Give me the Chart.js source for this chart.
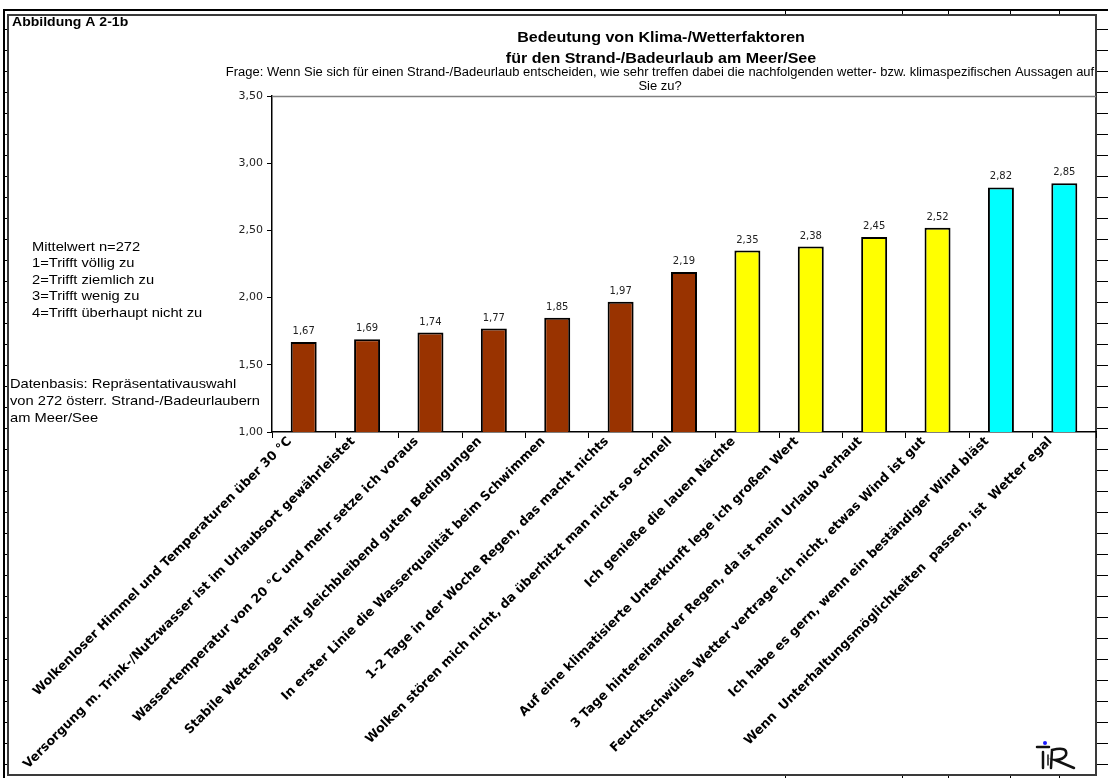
<!DOCTYPE html>
<html>
<head>
<meta charset="utf-8">
<script src="https://cdn.jsdelivr.net/npm/chart.js@4/dist/chart.umd.min.js"></script>
<style>
  html, body { margin: 0; padding: 0; background: #fff; }
  #wrap { width: 1108px; height: 778px; }
</style>
</head>
<body>
<div id="wrap"><canvas id="myChart" width="1108" height="778"></canvas></div>
<script>
const categories = [
  'Wolkenloser Himmel und Temperaturen über 30 °C',
  'Versorgung m. Trink-/Nutzwasser ist im Urlaubsort gewährleistet',
  'Wassertemperatur von 20 °C und mehr setze ich voraus',
  'Stabile Wetterlage mit gleichbleibend guten Bedingungen',
  'In erster Linie die Wasserqualität beim Schwimmen',
  '1-2 Tage in der Woche Regen, das macht nichts',
  'Wolken stören mich nicht, da überhitzt man nicht so schnell',
  'Ich genieße die lauen Nächte',
  'Auf eine klimatisierte Unterkunft lege ich großen Wert',
  '3 Tage hintereinander Regen, da ist mein Urlaub verhaut',
  'Feuchtschwüles Wetter vertrage ich nicht, etwas Wind ist gut',
  'Ich habe es gern, wenn ein beständiger Wind bläst',
  'Wenn  Unterhaltungsmöglichkeiten  passen, ist  Wetter egal'
];
const means = [1.67, 1.69, 1.74, 1.77, 1.85, 1.97, 2.19, 2.35, 2.38, 2.45, 2.52, 2.82, 2.85];
const barColors = [
  '#993300', '#993300', '#993300', '#993300', '#993300', '#993300', '#993300',
  '#FFFF00', '#FFFF00', '#FFFF00', '#FFFF00',
  '#00FFFF', '#00FFFF'
];
const yTickLabels = ['1,00', '1,50', '2,00', '2,50', '3,00', '3,50'];

const titleLines = ['Bedeutung von Klima-/Wetterfaktoren', 'für den Strand-/Badeurlaub am Meer/See'];
const questionLines = [
  'Frage: Wenn Sie sich für einen Strand-/Badeurlaub entscheiden, wie sehr treffen dabei die nachfolgenden wetter- bzw. klimaspezifischen Aussagen auf',
  'Sie zu?'
];
const scaleNotes = ['Mittelwert n=272', '1=Trifft völlig zu', '2=Trifft ziemlich zu', '3=Trifft wenig zu', '4=Trifft überhaupt nicht zu'];
const sourceNotes = ['Datenbasis: Repräsentativauswahl', 'von 272 österr. Strand-/Badeurlaubern', 'am Meer/See'];
const figureLabel = 'Abbildung A 2-1b';

const ARIAL = "'Liberation Sans', Arial, sans-serif";
const WIDE = "'DejaVu Sans', sans-serif";

function seg(c, x1, y1, x2, y2) {
  c.beginPath(); c.moveTo(x1, y1); c.lineTo(x2, y2); c.stroke();
}

// the source used a horizontally widened Arial, so stretch the text a bit
function wideText(c, text, x, y, font, align, sx) {
  c.save();
  c.font = font;
  c.textAlign = align;
  c.translate(x, y);
  c.scale(sx, 1);
  c.fillText(text, 0, 0);
  c.restore();
}

// spreadsheet cells around the embedded chart + the chart box itself
const sheetFrame = {
  id: 'sheetFrame',
  beforeDraw(chart) {
    const c = chart.ctx;
    c.save();
    c.fillStyle = '#fff';
    c.fillRect(0, 0, chart.width, chart.height);
    c.strokeStyle = '#000';
    c.lineWidth = 1;
    for (let y = 29.5; y < chart.height; y += 21) {
      seg(c, 3, y, 8, y);
      seg(c, 1096, y, 1108, y);
    }
    for (const x of [785, 902, 948, 1010, 1059]) {
      seg(c, x + 0.5, 9, x + 0.5, 15);
      seg(c, x + 0.5, 775, x + 0.5, 778);
    }
    c.lineWidth = 2;
    seg(c, 4, 9, 4, 778);
    seg(c, 3, 10, 1108, 10);
    c.strokeStyle = '#3a3a3a';
    c.strokeRect(8, 15, 1088, 760);
    c.restore();
  }
};

const annotations = {
  id: 'annotations',
  afterDraw(chart) {
    const c = chart.ctx;
    const area = chart.chartArea;
    c.save();

    // top border of the plot
    c.strokeStyle = '#808080';
    c.lineWidth = 1.5;
    seg(c, area.left, area.top + 0.5, 1096, area.top + 0.5);

    c.fillStyle = '#000';
    c.textBaseline = 'middle';
    wideText(c, figureLabel, 12, 22, 'bold 13px ' + ARIAL, 'left', 1.08);

    titleLines.forEach((t, i) => wideText(c, t, 661, 38 + i * 21, 'bold 15px ' + ARIAL, 'center', 1.07));
    questionLines.forEach((t, i) => wideText(c, t, 660, 73 + i * 14, '12px ' + ARIAL, 'center', 1.08));

    scaleNotes.forEach((t, i) => wideText(c, t, 32, 247 + i * 16.5, '13px ' + ARIAL, 'left', 1.13));
    sourceNotes.forEach((t, i) => wideText(c, t, 10, 384 + i * 17, '13px ' + ARIAL, 'left', 1.13));

    // value labels above the bars
    c.textAlign = 'center';
    c.textBaseline = 'alphabetic';
    c.font = '10px ' + WIDE;
    c.fillStyle = '#222';
    const meta = chart.getDatasetMeta(0);
    meta.data.forEach((bar, i) => {
      c.fillText(means[i].toFixed(2).replace('.', ','), bar.x, bar.y - 8);
    });

    // institute logo
    c.strokeStyle = '#111';
    c.lineWidth = 2.5;
    c.lineCap = 'round';
    seg(c, 1037, 747, 1049, 747);
    seg(c, 1043, 752, 1043, 768);
    c.lineWidth = 1.5;
    seg(c, 1048, 755, 1048, 765);
    c.lineWidth = 2.5;
    c.beginPath();
    c.moveTo(1051, 768);
    c.lineTo(1052, 750);
    c.quadraticCurveTo(1068, 746, 1066, 755);
    c.quadraticCurveTo(1063, 760, 1055, 760);
    c.lineTo(1074, 768);
    c.stroke();
    c.fillStyle = '#1a1aff';
    c.beginPath();
    c.arc(1045, 743, 2, 0, Math.PI * 2);
    c.fill();

    c.restore();
  }
};

new Chart(document.getElementById('myChart'), {
  type: 'bar',
  data: {
    labels: categories,
    datasets: [{
      data: means,
      backgroundColor: barColors,
      borderColor: '#000',
      borderWidth: 2,
      barPercentage: 0.41,
      categoryPercentage: 1
    }]
  },
  options: {
    responsive: false,
    animation: false,
    devicePixelRatio: 1,
    layout: { padding: { top: 96, right: 12, bottom: 0, left: 0 } },
    plugins: {
      legend: { display: false },
      title: { display: false },
      tooltip: { enabled: false }
    },
    scales: {
      x: {
        afterFit(scale) { scale.height = 346; },
        grid: { offset: true, drawOnChartArea: false, tickLength: 6, color: '#000' },
        border: { color: '#000', width: 1.5 },
        ticks: {
          autoSkip: false,
          minRotation: 45,
          maxRotation: 45,
          padding: -4,
          labelOffset: -14,
          color: '#000',
          font: { family: WIDE, size: 12.6, weight: 'bold' }
        }
      },
      y: {
        min: 1,
        max: 3.5,
        afterFit(scale) { scale.width = 272; },
        grid: { drawOnChartArea: false, tickLength: 5, color: '#000' },
        border: { color: '#000', width: 1.5 },
        ticks: {
          stepSize: 0.5,
          padding: 4,
          color: '#222',
          font: { family: WIDE, size: 11 },
          callback: (v, i) => yTickLabels[i]
        }
      }
    }
  },
  plugins: [sheetFrame, annotations]
});
</script>
</body>
</html>
